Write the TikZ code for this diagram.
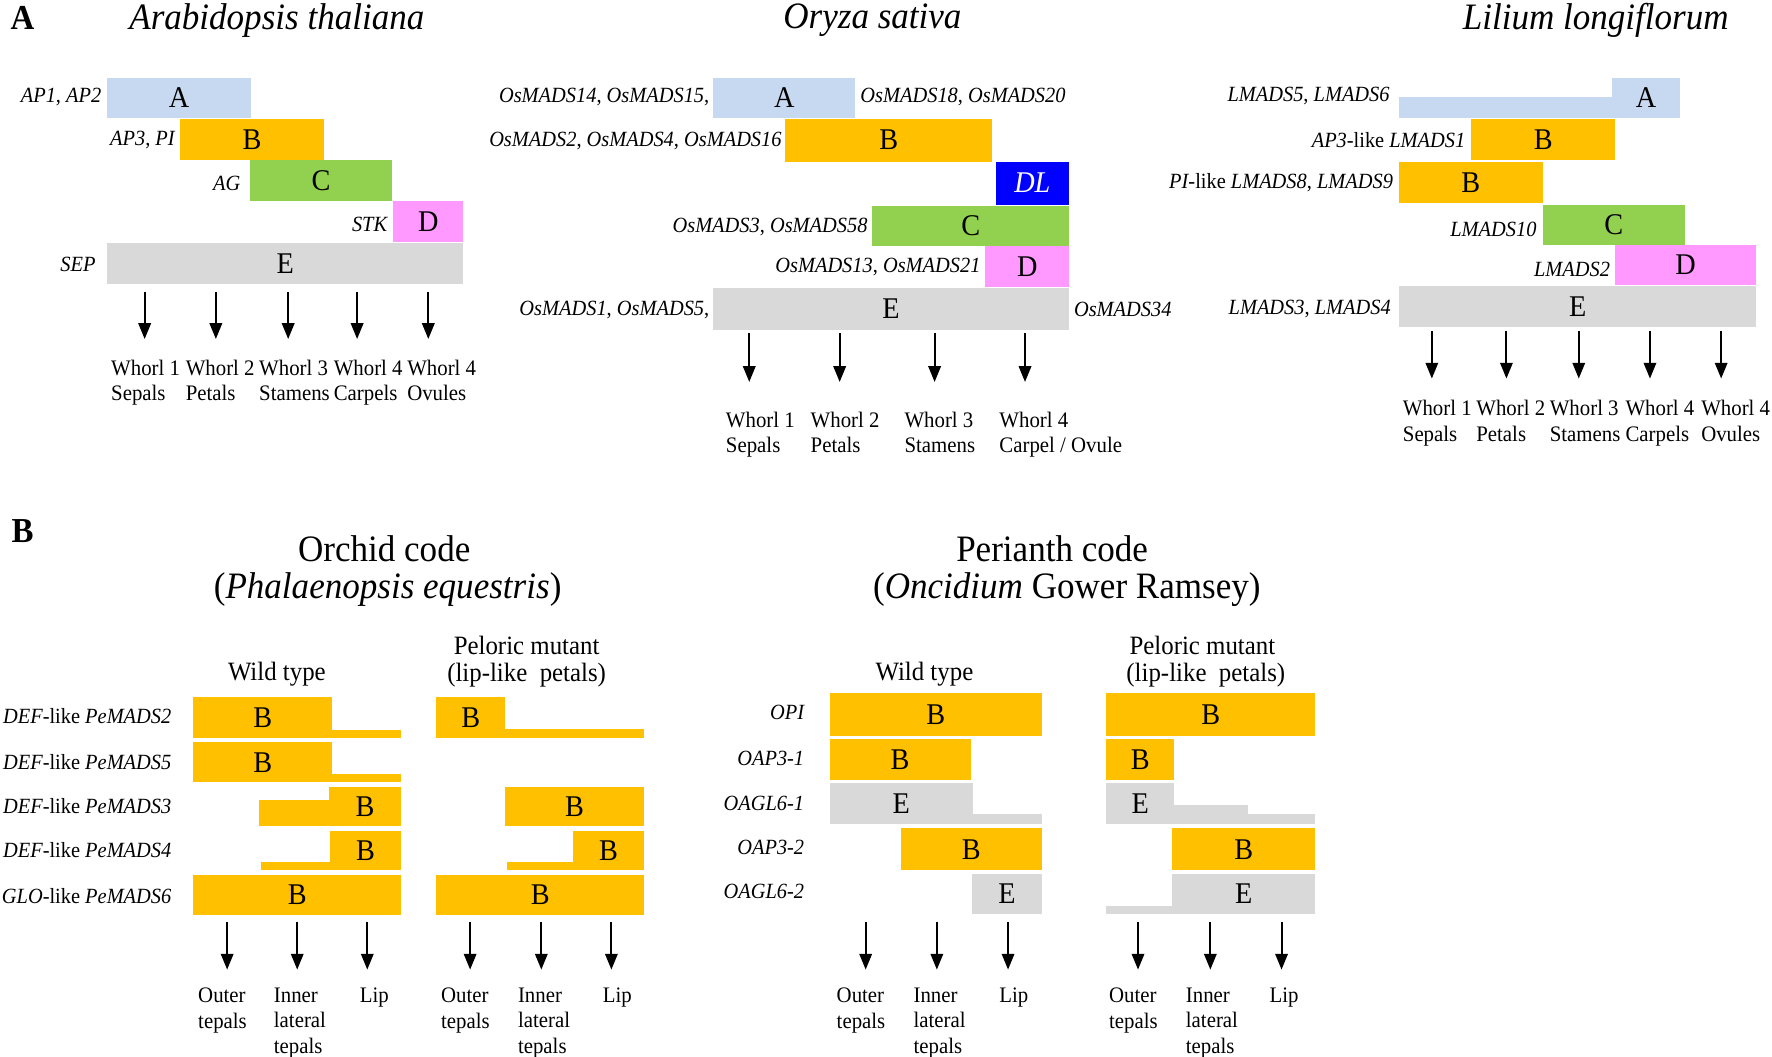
\documentclass[tikz,border=0pt]{standalone}
\usepackage{fontspec}
\setmainfont{Liberation Serif}[FakeStretch=0.94]
\usetikzlibrary{calc,arrows.meta}
\definecolor{cA}{RGB}{198,217,241}
\definecolor{cB}{RGB}{255,192,0}
\definecolor{cC}{RGB}{146,208,80}
\definecolor{cD}{RGB}{255,153,255}
\definecolor{cE}{RGB}{217,217,217}
\definecolor{cDL}{RGB}{0,0,255}
\tikzset{
 lett/.style={inner sep=0pt, font=\fontsize{13.3}{15}\selectfont},
 gene/.style={inner sep=0pt, anchor=east, font=\fontsize{9.6}{11}\selectfont\itshape},
 genel/.style={gene, anchor=west},
 wlab/.style={inner sep=0pt, anchor=north west, align=left, font=\fontsize{9.8}{11.2}\selectfont},
 arr/.style={line width=0.9pt, -{Triangle[width=5.5pt,length=7pt]}},
 ttl/.style={inner sep=0pt, font=\fontsize{16.5}{18}\selectfont},
 sub/.style={inner sep=0pt, font=\fontsize{11.7}{13}\selectfont, align=center},
 plab/.style={inner sep=0pt, font=\fontsize{15.5}{18}\selectfont\bfseries},
}
\newcommand\gb[7]{\fill[#6] (#2,#3) rectangle (#4,#5); \node[lett] (#1) at ($(#2,#3)!0.5!(#4,#5)$) {#7};}
\newcommand\gs[5]{\fill[#5] (#1,#2) rectangle (#3,#4);}
\newcommand\ar[4]{\coordinate (#1s) at (#2,#3); \coordinate (#1e) at (#2,#4); \draw[arr] (#1s) -- (#1e);}
\begin{document}
\begin{tikzpicture}[x=0.5pt,y=-0.5pt]
\useasboundingbox (0,0) rectangle (1568,935.3);
% ---------- Panel A ----------
\node[plab] (pA) at (20,16) {A};
\node[ttl] (t1) at (245,18) {\itshape Arabidopsis thaliana};
\node[ttl] (t2) at (772,18) {\itshape Oryza sativa};
\node[ttl] (t3) at (1412,18) {\itshape Lilium longiflorum};
% Arabidopsis
\gb{arA}{95}{69}{222}{104}{cA}{A}
\gb{arB}{159}{105}{287}{142}{cB}{B}
\gb{arC}{221}{142}{347}{178}{cC}{C}
\gb{arD}{348}{178}{410}{214}{cD}{D}
\gb{arE}{95}{215}{410}{251}{cE}{E}
\node[gene] (garA) at (90,86) {AP1\upshape, \itshape AP2};
\node[gene] (garB) at (155,124) {AP3\upshape, \itshape PI};
\node[gene] (garC) at (213,162) {AG};
\node[gene] (garD) at (343,199) {STK};
\node[gene] (garE) at (85,234) {SEP};
\ar{a1}{128}{258}{300}
\ar{a2}{191}{258}{300}
\ar{a3}{255}{258}{300}
\ar{a4}{316}{258}{300}
\ar{a5}{379}{258}{300}
\node[wlab] (wa1) at (98,318) {Whorl 1\\Sepals};
\node[wlab] (wa2) at (164,318) {Whorl 2\\Petals};
\node[wlab] (wa3) at (229,318) {Whorl 3\\Stamens};
\node[wlab] (wa4) at (295,318) {Whorl 4\\Carpels};
\node[wlab] (wa5) at (360,318) {Whorl 4\\Ovules};
% Oryza
\gb{orA}{631}{69}{757}{104}{cA}{A}
\gb{orB}{695}{105}{878}{143}{cB}{B}
\fill[cDL] (881,143) rectangle (946,181);
\node[lett, text=white, font=\fontsize{13.3}{15}\selectfont\itshape] (orDL) at (913.5,162) {DL};
\gb{orC}{772}{182}{946}{218}{cC}{C}
\gb{orD}{872}{218}{946}{254}{cD}{D}
\gb{orE}{631}{255}{946}{292}{cE}{E}
\node[gene] (gorA) at (628,86) {OsMADS14\upshape, \itshape OsMADS15\upshape,};
\node[genel] (gorA2) at (761,86) {OsMADS18\upshape, \itshape OsMADS20};
\node[gene] (gorB) at (692,125) {OsMADS2\upshape, \itshape OsMADS4\upshape, \itshape OsMADS16};
\node[gene] (gorC) at (768,201) {OsMADS3\upshape, \itshape OsMADS58};
\node[gene] (gorD) at (868,236) {OsMADS13\upshape, \itshape OsMADS21};
\node[gene] (gorE) at (628,274) {OsMADS1\upshape, \itshape OsMADS5\upshape,};
\node[genel] (gorE2) at (950,274) {OsMADS34};
\ar{o1}{663}{295}{338}
\ar{o2}{743}{295}{338}
\ar{o3}{827}{295}{338}
\ar{o4}{907}{295}{338}
\node[wlab] (wo1) at (642,364) {Whorl 1\\Sepals};
\node[wlab] (wo2) at (717,364) {Whorl 2\\Petals};
\node[wlab] (wo3) at (800,364) {Whorl 3\\Stamens};
\node[wlab] (wo4) at (884,364) {Whorl 4\\Carpel / Ovule};
% Lilium
\gs{1238}{86}{1426}{104}{cA}
\gb{liA}{1426}{69}{1487}{104}{cA}{A}
\gb{liB1}{1302}{105}{1429}{142}{cB}{B}
\gb{liB2}{1238}{143}{1365}{180}{cB}{B}
\gb{liC}{1365}{181}{1491}{217}{cC}{C}
\gb{liD}{1429}{217}{1554}{252}{cD}{D}
\gb{liE}{1238}{253}{1554}{289}{cE}{E}
\node[gene] (gliA) at (1230,85) {LMADS5\upshape, \itshape LMADS6};
\node[gene] (gliB1) at (1297,124) {AP3\upshape-like \itshape LMADS1};
\node[gene] (gliB2) at (1233,162) {PI\upshape-like \itshape LMADS8\upshape, \itshape LMADS9};
\node[gene] (gliC) at (1360,203) {LMADS10};
\node[gene] (gliD) at (1425,238) {LMADS2};
\node[gene] (gliE) at (1231,273) {LMADS3\upshape, \itshape LMADS4};
\ar{l1}{1267}{293}{335}
\ar{l2}{1333}{293}{335}
\ar{l3}{1397}{293}{335}
\ar{l4}{1460}{293}{335}
\ar{l5}{1523}{293}{335}
\node[wlab] (wl1) at (1241,354) {Whorl 1\\Sepals};
\node[wlab] (wl2) at (1306,354) {Whorl 2\\Petals};
\node[wlab] (wl3) at (1371,354) {Whorl 3\\Stamens};
\node[wlab] (wl4) at (1438,354) {Whorl 4\\Carpels};
\node[wlab] (wl5) at (1505,354) {Whorl 4\\Ovules};
% ---------- Panel B ----------
\node[plab] (pB) at (20,470) {B};
\node[ttl] (t4) at (340,486) {Orchid code};
\node[ttl] (t5) at (343,522) {(\textit{Phalaenopsis equestris})};
\node[ttl] (t6) at (931,486) {Perianth code};
\node[ttl] (t7) at (944,522) {(\textit{Oncidium} Gower Ramsey)};
\node[sub] (s1) at (245,597) {Wild type};
\node[sub] (s2) at (466,571) {Peloric mutant};
\node[sub] (s3) at (466,597) {(lip-like\ \ petals)};
\node[sub] (s4) at (818,597) {Wild type};
\node[sub] (s5) at (1064,571) {Peloric mutant};
\node[sub] (s6) at (1067,597) {(lip-like\ \ petals)};
% Orchid labels
\node[gene] (gp2) at (152,634) {DEF\upshape-like \itshape PeMADS2};
\node[gene] (gp5) at (152,674) {DEF\upshape-like \itshape PeMADS5};
\node[gene] (gp3) at (152,713) {DEF\upshape-like \itshape PeMADS3};
\node[gene] (gp4) at (152,752) {DEF\upshape-like \itshape PeMADS4};
\node[gene] (gp6) at (152,793) {GLO\upshape-like \itshape PeMADS6};
% Orchid wild type
\gb{pw1}{171}{617}{294}{653}{cB}{B}
\gs{294}{646}{355}{653}{cB}
\gb{pw2}{171}{657}{294}{692}{cB}{B}
\gs{294}{685}{355}{692}{cB}
\gs{229}{708}{291}{731}{cB}
\gb{pw3}{291}{696}{355}{731}{cB}{B}
\gs{231}{763}{292}{770}{cB}
\gb{pw4}{292}{735}{355}{770}{cB}{B}
\gb{pw5}{171}{774}{355}{810}{cB}{B}
% Orchid peloric
\gb{pp1}{386}{617}{447}{653}{cB}{B}
\gs{447}{645}{570}{653}{cB}
\gb{pp3}{447}{696}{570}{731}{cB}{B}
\gs{449}{763}{507}{770}{cB}
\gb{pp4}{507}{735}{570}{770}{cB}{B}
\gb{pp5}{386}{774}{570}{810}{cB}{B}
\ar{b1}{201}{816}{858}
\ar{b2}{263}{816}{858}
\ar{b3}{325}{816}{858}
\ar{b4}{416}{816}{858}
\ar{b5}{479}{816}{858}
\ar{b6}{541}{816}{858}
\node[wlab] (wb1) at (175,874) {Outer\\tepals};
\node[wlab] (wb2) at (242,874) {Inner\\lateral\\tepals};
\node[wlab] (wb3) at (318,874) {Lip};
\node[wlab] (wb4) at (390,874) {Outer\\tepals};
\node[wlab] (wb5) at (458,874) {Inner\\lateral\\tepals};
\node[wlab] (wb6) at (533,874) {Lip};
% Oncidium labels
\node[gene] (go1) at (712,630) {OPI};
\node[gene] (go2) at (712,671) {OAP3-1};
\node[gene] (go3) at (712,711) {OAGL6-1};
\node[gene] (go4) at (712,750) {OAP3-2};
\node[gene] (go5) at (712,789) {OAGL6-2};
% Oncidium wild type
\gb{ow1}{734}{613}{922}{651}{cB}{B}
\gb{ow2}{734}{654}{859}{690}{cB}{B}
\gb{ow3}{734}{693}{861}{729}{cE}{E}
\gs{861}{720}{922}{729}{cE}
\gb{ow4}{797}{733}{922}{770}{cB}{B}
\gb{ow5}{860}{773}{922}{809}{cE}{E}
% Oncidium peloric
\gb{op1}{979}{613}{1164}{651}{cB}{B}
\gb{op2}{979}{654}{1039}{690}{cB}{B}
\gb{op3}{979}{693}{1039}{729}{cE}{E}
\gs{1039}{712}{1104}{729}{cE}
\gs{1104}{720}{1164}{729}{cE}
\gb{op4}{1037}{733}{1164}{770}{cB}{B}
\gs{979}{802}{1037}{809}{cE}
\gb{op5}{1037}{773}{1164}{809}{cE}{E}
\ar{c1}{766}{816}{858}
\ar{c2}{829}{816}{858}
\ar{c3}{892}{816}{858}
\ar{c4}{1007}{816}{858}
\ar{c5}{1071}{816}{858}
\ar{c6}{1134}{816}{858}
\node[wlab] (wc1) at (740,874) {Outer\\tepals};
\node[wlab] (wc2) at (808,874) {Inner\\lateral\\tepals};
\node[wlab] (wc3) at (884,874) {Lip};
\node[wlab] (wc4) at (981,874) {Outer\\tepals};
\node[wlab] (wc5) at (1049,874) {Inner\\lateral\\tepals};
\node[wlab] (wc6) at (1123,874) {Lip};
\end{tikzpicture}
\end{document}
